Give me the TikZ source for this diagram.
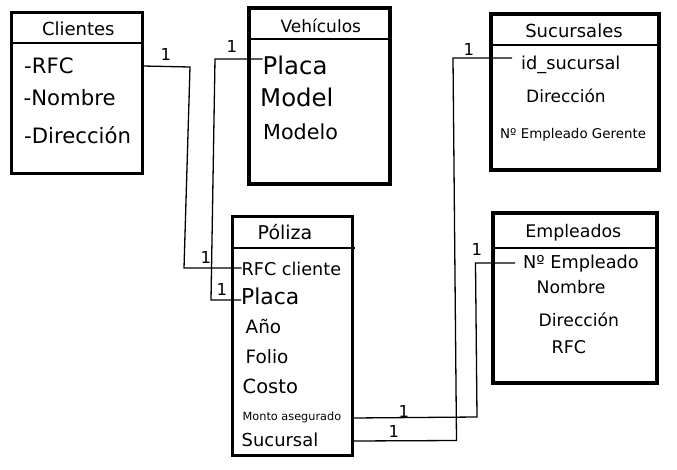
\documentclass[tikz,border=0pt]{standalone}
\usepackage{fontspec}
\setmainfont{DejaVu Sans}
\begin{document}
\begin{tikzpicture}[x=1pt,y=-1pt,
  tbl/.style={draw=black,line width=#1,fill=white},
  tbl/.default=4pt,
  sep/.style={line width=1.4pt},
  conn/.style={line width=1.3pt,line join=miter},
  txt/.style={anchor=base west,inner sep=0pt,font=\fontsize{#1}{#1}\selectfont},
  ttl/.style={anchor=base,inner sep=0pt,font=\fontsize{#1}{#1}\selectfont},
  one/.style={anchor=base west,inner sep=0pt,font=\fontsize{16.5}{16.5}\selectfont}]
\useasboundingbox[fill=white] (0,0) rectangle (677,469);
% tables
\draw[tbl=3.3pt] (11.7,12.7) rectangle (142.3,173.3);
\draw[sep] (11.7,43) -- (142.3,43);
\draw[tbl=4pt] (248.7,8) rectangle (390.3,183.7);
\draw[sep] (248.7,39) -- (390.3,39);
\draw[tbl=4pt] (491,13.7) rectangle (658.7,170.3);
\draw[sep] (491,45) -- (658.7,45);
\draw[tbl=3.3pt] (232.7,216.7) rectangle (352.7,455.7);
\draw[sep] (232.7,248) -- (355,248);
\draw[tbl=4pt] (493,213) rectangle (657,383);
\draw[sep] (493,248) -- (657,248);
% Clientes
\node[ttl=18] (cliT) at (78.3,35) {Clientes};
\node[txt=21.2] (cliRFC) at (24,73) {-RFC};
\node[txt=21.2] (cliNom) at (23.5,105) {-Nombre};
\node[txt=21.2] (cliDir) at (24,143) {-Dirección};
% Vehiculos
\node[ttl=17] (vehT) at (320.8,32) {Vehículos};
\node[txt=24.4] (vehPla) at (262.5,74) {Placa};
\node[txt=24.4] (vehMod) at (260,106) {Model};
\node[txt=20.7] (vehMdl) at (263,139) {Modelo};
% Sucursales
\node[ttl=18] (sucT) at (574,37) {Sucursales};
\node[txt=17.8] (sucId) at (521,69) {id\_sucursal};
\node[txt=17] (sucDir) at (526,102) {Dirección};
\node[txt=13.4] (sucGer) at (500,138) {Nº Empleado Gerente};
% Poliza
\node[ttl=19] (polT) at (285,239) {Póliza};
\node[txt=17.6] (polRFC) at (241.5,275) {RFC cliente};
\node[txt=21.9] (polPla) at (241,304) {Placa};
\node[txt=18.4] (polAno) at (245.5,333) {Año};
\node[txt=18.4] (polFol) at (245.5,363) {Folio};
\node[txt=19.5] (polCos) at (242.5,393) {Costo};
\node[txt=11.3] (polMon) at (242.5,420) {Monto asegurado};
\node[txt=17.9] (polSuc) at (241.5,446) {Sucursal};
% Empleados
\node[ttl=17.4] (empT) at (573.3,237) {Empleados};
\node[txt=17.7] (empNum) at (523,268) {Nº Empleado};
\node[txt=17.3] (empNom) at (536.5,293) {Nombre};
\node[txt=17.2] (empDir) at (538.5,326) {Dirección};
\node[txt=17.5] (empRFC) at (551.5,353) {RFC};
% connectors
\coordinate (c1a) at (190,67);
\coordinate (c1b) at (184,268);
\draw[conn] (143,66) -- (c1a) -- (c1b) -- (polRFC.west |- c1b);
\coordinate (c2a) at (215,59);
\coordinate (c2b) at (211,300);
\draw[conn] (vehPla.west |- c2a) -- (c2a) -- (c2b) -- (polPla.west |- c2b);
\coordinate (c3a) at (453,58);
\coordinate (c3b) at (456.5,440.5);
\draw[conn] (512,58) -- (c3a) -- (c3b) -- (353,441);
\coordinate (c4a) at (475.5,263);
\coordinate (c4b) at (477,417);
\draw[conn] (515,263) -- (c4a) -- (c4b) -- (353,418);
% labels
\node[one] (l1) at (160.5,60) {1};
\node[one] (l2) at (226.5,52) {1};
\node[one] (l3) at (463.5,55) {1};
\node[one] (l4) at (200.5,263) {1};
\node[one] (l5) at (216.5,295) {1};
\node[one] (l6) at (471.5,255) {1};
\node[one] (l7) at (398.5,417) {1};
\node[one] (l8) at (388.5,437) {1};
\end{tikzpicture}
\end{document}
